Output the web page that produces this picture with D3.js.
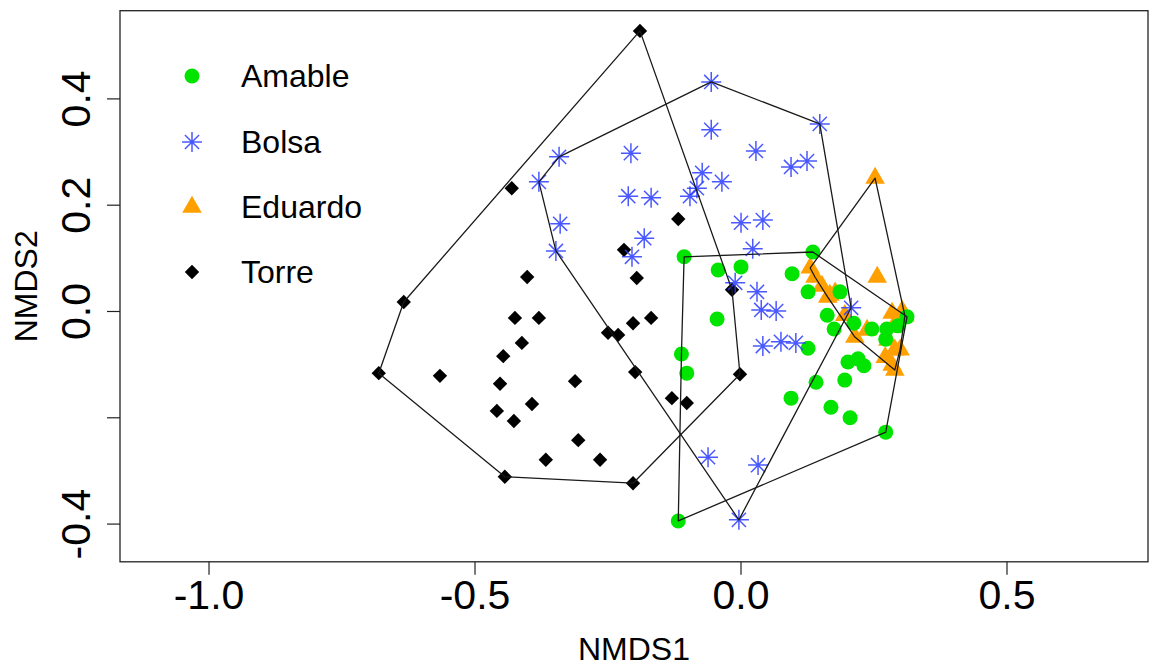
<!DOCTYPE html>
<html>
<head>
<meta charset="utf-8">
<script src="https://cdn.jsdelivr.net/npm/d3@7"></script>
<style>
  html, body { margin: 0; padding: 0; background: #fff; }
  svg { display: block; font-family: "Liberation Sans", Arial, Helvetica, sans-serif; }
</style>
</head>
<body>
<svg id="chart" width="1155" height="667"></svg>
<script>
// ---------------- data ----------------
const groups = ["Amable", "Bolsa", "Eduardo", "Torre"];

const amableX = [-0.106, 0.136, -0.042, 0.001, 0.097, 0.127, 0.187, -0.044, -0.111, -0.101,
  0.163, 0.176, 0.213, 0.247, 0.275, 0.296, 0.313, 0.273, 0.127, 0.202,
  0.221, 0.232, 0.142, 0.196, 0.095, 0.170, 0.206, 0.273, -0.117];
const amableY = [0.102, 0.111, 0.077, 0.083, 0.070, 0.036, 0.036, -0.015, -0.081, -0.117,
  -0.008, -0.034, -0.023, -0.034, -0.034, -0.028, -0.011, -0.053, -0.070, -0.096,
  -0.090, -0.103, -0.134, -0.130, -0.164, -0.181, -0.201, -0.228, -0.395];

const bolsaX = [-0.055, 0.149, -0.055, 0.029, 0.095, 0.125, -0.072, -0.035, -0.082, -0.095,
  -0.168, -0.181, 0.001, 0.042, 0.023, -0.341, -0.379, -0.206, -0.211, -0.339,
  -0.347, -0.204, -0.010, 0.031, 0.039, 0.067, 0.042, 0.076, 0.104, 0.208,
  -0.061, 0.033, -0.003];
const bolsaY = [0.431, 0.352, 0.341, 0.301, 0.271, 0.282, 0.260, 0.243, 0.231, 0.216,
  0.213, 0.137, 0.166, 0.171, 0.117, 0.290, 0.243, 0.297, 0.216, 0.164,
  0.113, 0.102, 0.053, 0.036, 0.002, 0.000, -0.066, -0.058, -0.060, 0.006,
  -0.275, -0.290, -0.393];

const eduardoX = [0.253, 0.257, 0.131, 0.140, 0.153, 0.164, 0.178, 0.196, 0.215, 0.238,
  0.285, 0.304, 0.309, 0.287, 0.277, 0.290, 0.300, 0.272, 0.285, 0.290, 0.168];
const eduardoY = [0.250, 0.064, 0.081, 0.064, 0.047, 0.026, 0.034, -0.008, -0.049, -0.036,
  -0.004, 0.000, -0.009, -0.030, -0.055, -0.073, -0.073, -0.087, -0.102, -0.111, 0.030];

const torreX = [-0.189, -0.430, -0.633, -0.680, -0.443, -0.202, -0.001, -0.016, -0.117, -0.219,
  -0.195, -0.401, -0.424, -0.379, -0.202, -0.168, -0.249, -0.230, -0.411, -0.446,
  -0.565, -0.452, -0.311, -0.198, -0.458, -0.392, -0.426, -0.305, -0.366, -0.264,
  -0.129, -0.101];
const torreY = [0.527, 0.231, 0.017, -0.117, -0.312, -0.324, -0.119, 0.040, 0.173, 0.115,
  0.062, 0.064, -0.013, -0.013, -0.023, -0.013, -0.041, -0.045, -0.060, -0.085,
  -0.122, -0.137, -0.132, -0.115, -0.188, -0.175, -0.207, -0.243, -0.280, -0.280,
  -0.164, -0.173];

const xTicks = [-1.0, -0.5, 0.0, 0.5];
const xTickLabels = ["-1.0", "-0.5", "0.0", "0.5"];
const yTicks = [-0.4, -0.2, 0.0, 0.2, 0.4];
const yTickLabels = ["-0.4", "", "0.0", "0.2", "0.4"];
const xTitle = "NMDS1";
const yTitle = "NMDS2";

// ---------------- styles ----------------
const colors = { Amable: "#00e400", Bolsa: "#2a3cff", Eduardo: "#ffa000", Torre: "#000000" };
const drawOrder = ["Torre", "Eduardo", "Amable", "Bolsa"];

const series = {
  Amable: amableX.map((x, i) => [x, amableY[i]]),
  Bolsa: bolsaX.map((x, i) => [x, bolsaY[i]]),
  Eduardo: eduardoX.map((x, i) => [x, eduardoY[i]]),
  Torre: torreX.map((x, i) => [x, torreY[i]])
};

// ---------------- layout ----------------
const plot = { left: 120, right: 1148, top: 10.7, bottom: 561.8 };
const x = d3.scaleLinear().domain([-1.1664, 0.766]).range([plot.left, plot.right]);
const y = d3.scaleLinear().domain([-0.4719, 0.565]).range([plot.bottom, plot.top]);

const svg = d3.select("#chart");

// symbol drawers
function drawSymbol(g, name, cx, cy) {
  const c = colors[name];
  if (name === "Amable") {
    g.append("circle").attr("cx", cx).attr("cy", cy).attr("r", 7.5).attr("fill", c);
  } else if (name === "Bolsa") {
    const a = 10, d = a / Math.SQRT2;
    const p = `M${cx - a},${cy}L${cx + a},${cy}M${cx},${cy - a}L${cx},${cy + a}` +
              `M${cx - d},${cy - d}L${cx + d},${cy + d}M${cx - d},${cy + d}L${cx + d},${cy - d}`;
    g.append("path").attr("d", p).attr("stroke", c).attr("stroke-width", 1.5)
      .attr("stroke-opacity", 0.85).attr("fill", "none");
  } else if (name === "Eduardo") {
    const r = 11.3, hw = r * Math.sqrt(3) / 2;
    g.append("path").attr("d", `M${cx},${cy - r}L${cx + hw},${cy + r / 2}L${cx - hw},${cy + r / 2}Z`)
      .attr("fill", c);
  } else {
    const s = 7.2;
    g.append("path").attr("d", `M${cx},${cy - s}L${cx + s},${cy}L${cx},${cy + s}L${cx - s},${cy}Z`)
      .attr("fill", c);
  }
}

// points
const pts = svg.append("g");
drawOrder.forEach(name => {
  series[name].forEach(p => drawSymbol(pts, name, x(p[0]), y(p[1])));
});

// hulls
const hullLine = d3.line().x(d => x(d[0])).y(d => y(d[1]));
groups.forEach(name => {
  const hull = d3.polygonHull(series[name]);
  svg.append("path").attr("d", hullLine(hull) + "Z")
    .attr("fill", "none").attr("stroke", "#1a1a1a").attr("stroke-width", 1.3)
    .attr("stroke-linejoin", "round");
});

// box
svg.append("rect").attr("x", plot.left).attr("y", plot.top)
  .attr("width", plot.right - plot.left).attr("height", plot.bottom - plot.top)
  .attr("fill", "none").attr("stroke", "#222").attr("stroke-width", 1.3);

// x axis
const xAxis = svg.append("g").attr("transform", `translate(0,${plot.bottom})`)
  .call(d3.axisBottom(x).tickValues(xTicks).tickSize(13).tickPadding(5)
    .tickFormat((d, i) => xTickLabels[i]));
xAxis.select(".domain").remove();
xAxis.selectAll("line").attr("stroke", "#222").attr("stroke-width", 1.2);
xAxis.selectAll("text").attr("font-size", 41).attr("fill", "#000")
  .attr("font-family", "'Liberation Sans', Arial, sans-serif");

// y axis
const yAxis = svg.append("g").attr("transform", `translate(${plot.left},0)`)
  .call(d3.axisLeft(y).tickValues(yTicks).tickSize(13)
    .tickFormat((d, i) => yTickLabels[i]));
yAxis.select(".domain").remove();
yAxis.selectAll("line").attr("stroke", "#222").attr("stroke-width", 1.2);
yAxis.selectAll("text")
  .attr("font-size", 41).attr("fill", "#000")
  .attr("font-family", "'Liberation Sans', Arial, sans-serif")
  .attr("text-anchor", "middle")
  .attr("x", 0).attr("y", -30).attr("dy", 0)
  .attr("transform", "rotate(-90)");

// axis titles
svg.append("text").attr("x", (plot.left + plot.right) / 2).attr("y", 660)
  .attr("text-anchor", "middle").attr("font-size", 32).text(xTitle);
svg.append("text").attr("transform", `translate(37,${(plot.top + plot.bottom) / 2}) rotate(-90)`)
  .attr("text-anchor", "middle").attr("font-size", 32).text(yTitle);

// legend
const legendY = [76, 142, 207, 272];
const lg = svg.append("g");
groups.forEach((name, i) => {
  drawSymbol(lg, name, 192, legendY[i]);
  lg.append("text").attr("x", 241).attr("y", legendY[i]).attr("dy", "0.35em")
    .attr("font-size", 32).attr("fill", "#000").text(name);
});
</script>
</body>
</html>
